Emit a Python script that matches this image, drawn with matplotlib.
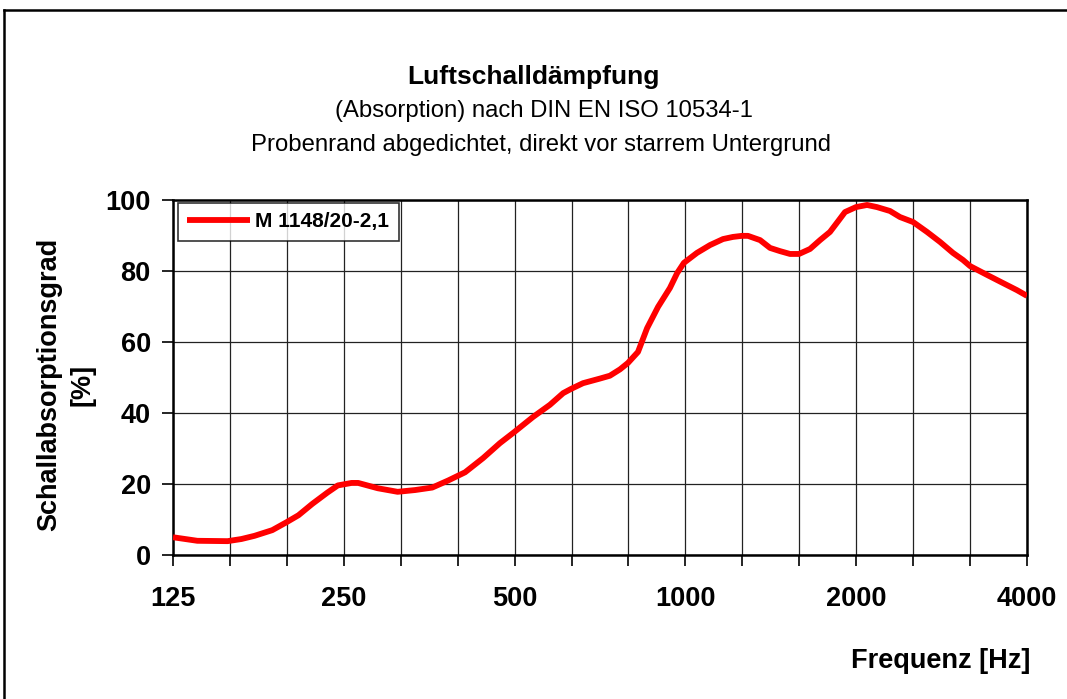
import numpy as np
import matplotlib
matplotlib.use("Agg")
import matplotlib.pyplot as plt
from matplotlib.lines import Line2D
from matplotlib.ticker import FixedLocator, NullFormatter

plt.rcParams['font.family'] = ['Liberation Sans', 'DejaVu Sans']

freq = [125, 138, 156, 165, 174, 187, 198, 208, 220, 234, 244, 258, 265, 287,
        311, 334, 358, 382, 409, 440, 471, 499, 539, 577, 609, 629, 660, 707,
        736, 767, 792, 825, 856, 895, 939, 967, 994, 1048, 1105, 1165, 1213,
        1258, 1289, 1354, 1410, 1468, 1529, 1586, 1658, 1727, 1798, 1858, 1911,
        1998, 2090, 2176, 2294, 2389, 2519, 2666, 2810, 2962, 3085, 3174, 3401,
        3629, 3841, 4000]
absorption = [5.0, 4.0, 3.9, 4.5, 5.4, 7.0, 9.2, 11.2, 14.4, 17.6, 19.6, 20.3,
              20.3, 18.8, 17.8, 18.3, 19.0, 21.0, 23.3, 27.3, 31.5, 34.6, 38.9,
              42.3, 45.6, 46.8, 48.4, 49.7, 50.5, 52.3, 54.1, 57.2, 63.9, 69.9,
              75.2, 79.4, 82.3, 85.1, 87.3, 89.0, 89.6, 89.9, 89.9, 88.7, 86.5,
              85.6, 84.8, 84.8, 86.2, 88.7, 91.0, 94.0, 96.6, 98.0, 98.6, 98.0,
              96.9, 95.2, 93.8, 91.0, 88.2, 85.1, 83.1, 81.4, 78.9, 76.6, 74.6,
              73.0]
series_label = "M 1148/20-2,1"

octave_ticks = [125, 250, 500, 1000, 2000, 4000]
third_octaves = [125 * 2 ** (k / 3) for k in range(16)]

fig = plt.figure(figsize=(10.67, 6.99), dpi=100)
ax = fig.add_axes([173 / 1067, 1 - 555 / 699, (1027 - 173) / 1067, (555 - 200) / 699])

ax.plot(freq, absorption, color='#ff0000', lw=4.2, label=series_label,
        solid_capstyle='butt', solid_joinstyle='round', zorder=3)

ax.set_xscale('log')
ax.set_xlim(125, 4000)
ax.set_ylim(0, 100)
ax.xaxis.set_major_locator(FixedLocator(octave_ticks))
ax.xaxis.set_minor_locator(FixedLocator(third_octaves))
ax.xaxis.set_minor_formatter(NullFormatter())
ax.set_xticklabels([str(v) for v in octave_ticks])
ax.set_yticks([0, 20, 40, 60, 80, 100])

ax.grid(True, which='both', axis='x', color='#222222', lw=0.9)
ax.grid(True, which='major', axis='y', color='#222222', lw=0.9)

ax.tick_params(axis='both', which='both', direction='out', length=8, width=1.2,
               color='black')
ax.tick_params(axis='both', which='major', labelsize=19.5, pad=14)
ax.tick_params(axis='y', pad=8)
for lab in ax.get_xticklabels() + ax.get_yticklabels():
    lab.set_fontweight('bold')

for s in ax.spines.values():
    s.set_linewidth(1.8)
    s.set_color('black')

ax.set_ylabel("Schallabsorptionsgrad\n[%]", fontsize=19.5, fontweight='bold',
              linespacing=1.35)
ax.yaxis.set_label_coords(-0.091, 0.48)
fig.text(1030 / 1067, 1 - 661 / 699, "Frequenz [Hz]", fontsize=19.5,
         fontweight='bold', ha='right', va='center')

leg = ax.legend(loc='upper left', bbox_to_anchor=(0.006, 0.992), fancybox=False,
                frameon=True, edgecolor='black', handlelength=3.0,
                handletextpad=0.25, borderpad=0.45, borderaxespad=0.0,
                prop={'weight': 'bold', 'size': 15})
leg.get_frame().set_linewidth(1.2)

fig.text(0.5, 1 - 77 / 699, "Luftschalldämpfung", fontsize=19, fontweight='bold',
         ha='center', va='center')
fig.text(0.51, 1 - 111 / 699, "(Absorption) nach DIN EN ISO 10534-1", fontsize=17.2,
         ha='center', va='center')
fig.text(0.507, 1 - 145 / 699, "Probenrand abgedichtet, direkt vor starrem Untergrund",
         fontsize=17.2, ha='center', va='center')

# Rahmen um das Diagramm
fig.add_artist(Line2D([4 / 1067, 4 / 1067], [0, 1 - 10 / 699], color='black', lw=1.8))
fig.add_artist(Line2D([4 / 1067, 1], [1 - 10 / 699, 1 - 10 / 699], color='black', lw=1.8))

fig.savefig("out.png", dpi=100)
